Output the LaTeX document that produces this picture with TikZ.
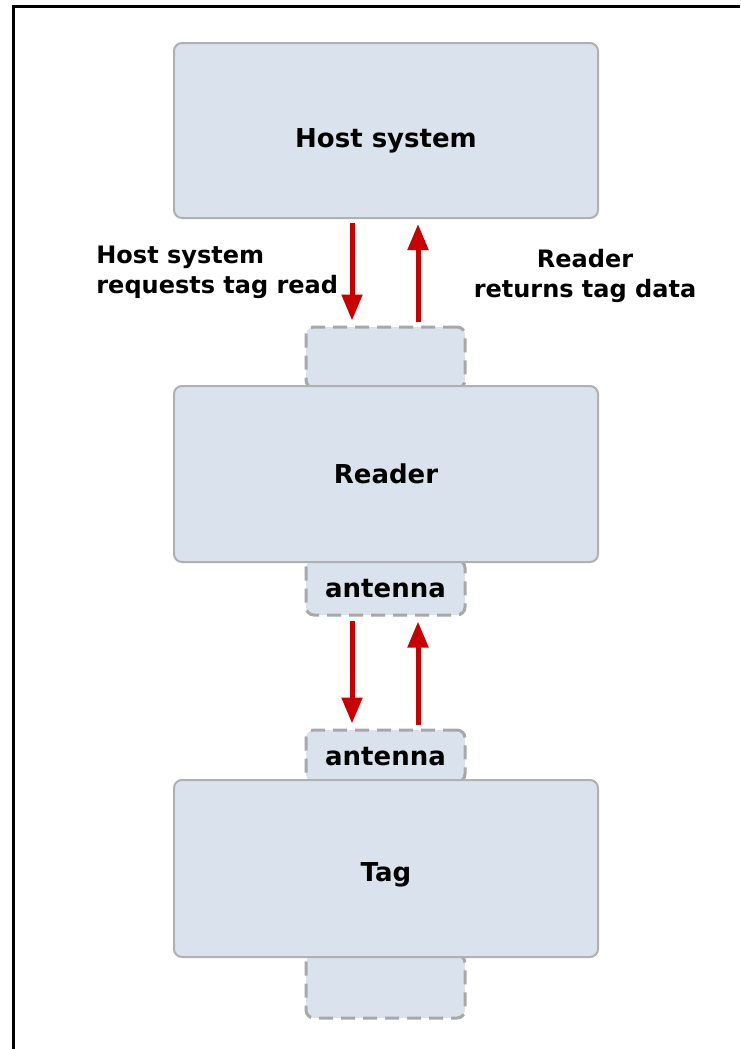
\documentclass[tikz,border=0pt]{standalone}
\usepackage{fontspec}
\setmainfont{DejaVu Sans}
\usepackage{xcolor}
\usepackage{tikz}
\usetikzlibrary{arrows.meta, calc}

\definecolor{boxfill}{HTML}{DAE3ED}
\definecolor{boxline}{HTML}{B0B0B0}
\definecolor{portline}{HTML}{A8A8A8}
\definecolor{sigred}{HTML}{C80000}

\begin{document}
\begin{tikzpicture}[
  x=0.5pt, y=-0.5pt,
  every node/.style = {font=\bfseries\fontsize{13}{15}\selectfont, text=black},
  unit/.style       = {draw=boxline, fill=boxfill, line width=1pt, rounded corners=4pt,
                       minimum width=212pt, inner sep=0pt, text height=9.5pt, text depth=0pt},
  port/.style       = {draw=portline, fill=boxfill, line width=1.5pt, rounded corners=4pt,
                       dash pattern=on 7pt off 4pt, minimum width=79.5pt, inner sep=0pt,
                       text height=9.5pt, text depth=0pt},
  sig/.style        = {-{Triangle[width=10pt, length=13pt]}, line width=2.5pt, sigred,
                       shorten <=2pt, shorten >=2.5pt},
  note/.style       = {font=\bfseries\fontsize{12}{15}\selectfont, inner sep=0pt},
]

%% ── Page: 1 unit = 1 px of the 740 x 1049 sheet ──────────────────────────
\useasboundingbox (0,0) rectangle (740,1049);
\draw[line width=1.5pt] (13.5,1049) -- (13.5,6) -- (740,6);

%% ── Ports (drawn first, the blocks cover their inner edge) ───────────────
\node[port, minimum height=30.5pt] (rdtop) at (385.5,357.5) {};
\node[port, minimum height=27.5pt] (rdant) at (385.5,587.5) {antenna};
\node[port, minimum height=26pt]   (tgant) at (385.5,756)   {antenna};
\node[port, minimum height=31.5pt] (tgbot) at (385.5,986.5) {};

%% ── Blocks ───────────────────────────────────────────────────────────────
\node[unit, minimum height=87.5pt, text height=16.5pt] (host)   at (386,130.5) {Host system};
\node[unit, minimum height=88pt]                       (reader) at (386,474)   {Reader};
\node[unit, minimum height=88.5pt, text height=13pt]   (tag)    at (386,868.5) {Tag};

%% ── Host <-> Reader ──────────────────────────────────────────────────────
\draw[sig] ([xshift=-17pt]host.south) -- ([xshift=-17pt]host.south |- rdtop.north);
\draw[sig] ([xshift=16pt]host.south |- rdtop.north) -- ([xshift=16pt]host.south);

\node[note, align=left, anchor=west] (reqlbl) at (96,272) {Host system\\requests tag read};
\node[note, align=center]            (retlbl) at (585,276) {Reader\\returns tag data};

%% ── Reader antenna <-> Tag antenna ───────────────────────────────────────
\draw[sig] ([xshift=-16.75pt]rdant.south) -- ([xshift=-16.75pt]rdant.south |- tgant.north);
\draw[sig] ([xshift=16.25pt]rdant.south |- tgant.north) -- ([xshift=16.25pt]rdant.south);

\end{tikzpicture}
\end{document}
